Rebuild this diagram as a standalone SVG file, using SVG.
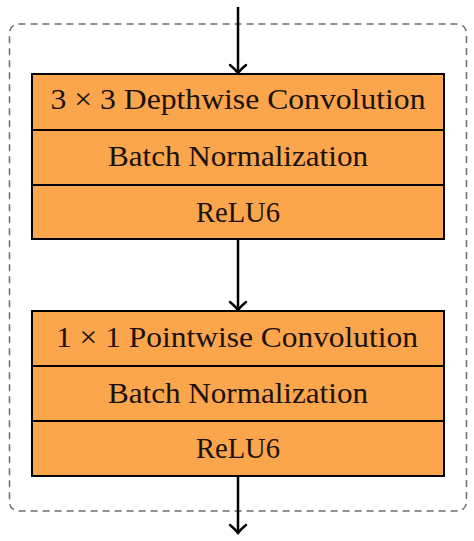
<svg xmlns="http://www.w3.org/2000/svg" width="474" height="541" viewBox="0 0 474 541">
<style>
.cell{fill:#FBA54C;stroke:#000;stroke-width:2}
.lbl{font-family:"Liberation Serif","Times New Roman",serif;font-size:29px;fill:#1a1209;text-anchor:middle}
.frame{fill:none;stroke:#6e6e6e;stroke-width:1.5;stroke-dasharray:7 5}
.conn{stroke:#000;stroke-width:2.5;fill:none}
</style>
<defs>
<marker id="arr" markerUnits="userSpaceOnUse" markerWidth="20" markerHeight="20" refX="10" refY="10" orient="auto">
<path d="M2,2 Q6,7 10,10 Q6,13 2,18" transform="rotate(0)" fill="none" stroke="#000" stroke-width="2.5" stroke-linecap="round"/>
</marker>
</defs>
<rect id="frame" class="frame" x="9.5" y="24" width="457" height="487" rx="9"/>
<g id="connectors">
<line class="conn" x1="238" y1="7" x2="238" y2="73" marker-end="url(#arr)"/>
<line class="conn" x1="238" y1="239" x2="238" y2="310" marker-end="url(#arr)"/>
<line class="conn" x1="238" y1="476" x2="238" y2="533" marker-end="url(#arr)"/>
</g>
<g id="depthwise">
<rect class="cell" x="32" y="74" width="412" height="56"/>
<text class="lbl" x="238" y="109" textLength="375" lengthAdjust="spacingAndGlyphs">3 × 3 Depthwise Convolution</text>
</g>
<g id="bn1">
<rect class="cell" x="32" y="130" width="412" height="55"/>
<text class="lbl" x="238" y="166" textLength="260" lengthAdjust="spacingAndGlyphs">Batch Normalization</text>
</g>
<g id="relu1">
<rect class="cell" x="32" y="185" width="412" height="54"/>
<text class="lbl" x="238" y="221.5" textLength="84" lengthAdjust="spacingAndGlyphs">ReLU6</text>
</g>
<g id="pointwise">
<rect class="cell" x="32" y="311" width="412" height="55"/>
<text class="lbl" x="237" y="347" textLength="362" lengthAdjust="spacingAndGlyphs">1 × 1 Pointwise Convolution</text>
</g>
<g id="bn2">
<rect class="cell" x="32" y="366" width="412" height="55"/>
<text class="lbl" x="238" y="402.5" textLength="260" lengthAdjust="spacingAndGlyphs">Batch Normalization</text>
</g>
<g id="relu2">
<rect class="cell" x="32" y="421" width="412" height="55"/>
<text class="lbl" x="238" y="458" textLength="84" lengthAdjust="spacingAndGlyphs">ReLU6</text>
</g>
</svg>
